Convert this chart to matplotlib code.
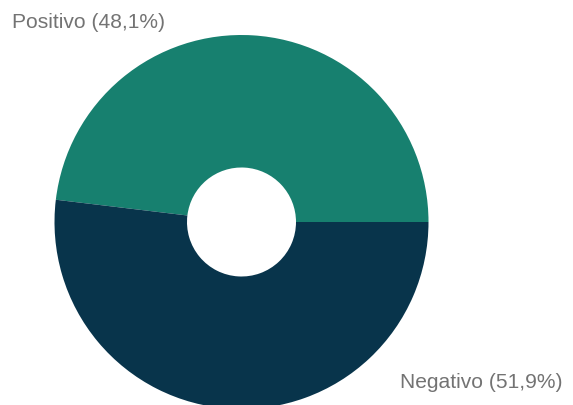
import matplotlib.pyplot as plt

labels = ['Positivo', 'Negativo']
shares = [48.1, 51.9]
colors = ['#17806f', '#08344b']

W, H = 573, 405
fig = plt.figure(figsize=(W / 100, H / 100), dpi=100)
ax = fig.add_axes([0, 0, 1, 1])

# donut in pixel units, y measured from the bottom
cx, cy, r = 241.5, H - 222, 187
hole = 54.5
ax.pie(shares, colors=colors, startangle=0, counterclock=True,
       center=(cx, cy), radius=r,
       wedgeprops=dict(width=r - hole, linewidth=0))

ax.set_xlim(0, W)
ax.set_ylim(0, H)
ax.axis('off')

font = dict(family='Liberation Sans', fontsize=15.1, color='#737373')
ax.text(12, H - 28, '%s (%s%%)' % (labels[0], str(shares[0]).replace('.', ',')),
        ha='left', va='baseline', **font)
ax.text(400, H - 388, '%s (%s%%)' % (labels[1], str(shares[1]).replace('.', ',')),
        ha='left', va='baseline', **font)

fig.savefig('out.png', dpi=100)
